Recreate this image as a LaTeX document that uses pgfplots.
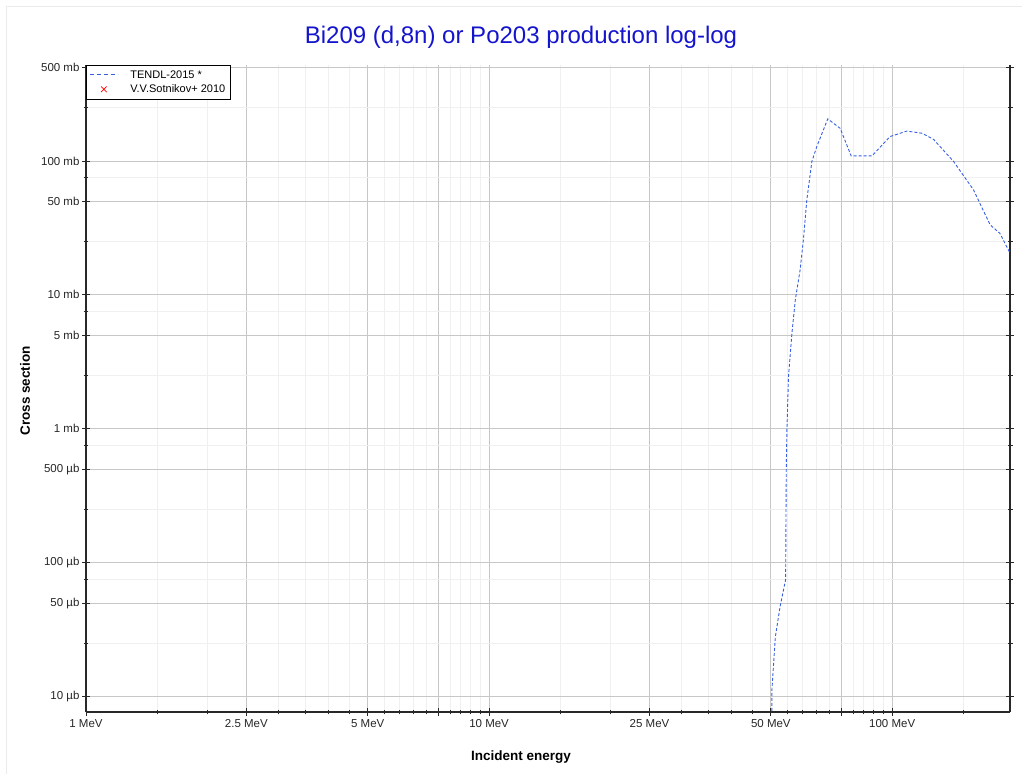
\documentclass[border=0pt]{standalone}
\usepackage{pgfplots}
\pgfplotsset{compat=1.18}
\usepackage{fontspec}
\setmainfont{Liberation Sans}
\definecolor{tendl}{RGB}{55,95,225}
\definecolor{ttl}{RGB}{20,20,205}
\definecolor{axc}{RGB}{40,40,40}
\pgfplotsset{
  longline/.style={legend image code/.code={\draw[tendl, line width=1pt, dash pattern=on 4pt off 3pt] (0pt,0pt) -- (28pt,0pt); \path (38pt,0pt);}},
  markleg/.style={legend image code/.code={\draw[red, line width=0.7pt] plot[mark=x, mark size=4pt] coordinates {(14pt,0pt)}; \path (0pt,0pt) (38pt,0pt);}},
}
\begin{document}
\begin{tikzpicture}[x=1pt,y=1pt]
\useasboundingbox (0,0) rectangle (1022,774);
\draw[black!8, line width=0.8pt] (6,0) -- (6,768) -- (1022,768);
\begin{axis}[
  scale only axis, width=924pt, height=647pt,
  at={(86pt,62pt)}, anchor=south west,
  xmode=log, ymode=log,
  xmin=1, xmax=196, ymin=0.0077, ymax=520,
  separate axis lines,
  axis x line*=bottom, axis y line*=box,
  axis line style={axc, line width=1.3pt},
  xtick pos=left, ytick pos=both, yticklabel pos=left,
  xtick={1,2.5,5,7.5,10,25,50,75,100},
  xticklabels={1 MeV,2.5 MeV,5 MeV,,10 MeV,25 MeV,50 MeV,,100 MeV},
  minor xtick={1.5,2,3,3.5,4,4.5,5.5,6,6.5,7,8,8.5,9,9.5,15,20,30,35,40,45,55,60,65,70,80,85,90,95,150},
  ytick={0.01,0.05,0.1,0.5,1,5,10,50,100,500},
  yticklabels={10 µb,50 µb,100 µb,500 µb,1 mb,5 mb,10 mb,50 mb,100 mb,500 mb},
  minor ytick={0.025,0.075,0.25,0.75,2.5,7.5,25,75,250},
  tick align=center,
  major tick length=8pt, minor tick length=5pt,
  tick style={axc, line width=0.8pt},
  grid=both,
  major grid style={black!22, line width=0.8pt},
  minor grid style={black!6, line width=0.8pt},
  ticklabel style={font=\fontsize{11.5}{13}\selectfont, black!85},
  xticklabel style={yshift=0pt},
  yticklabel style={xshift=1pt},
  legend style={at={(rel axis cs:0,1)}, anchor=north west,
    font=\fontsize{11}{13}\selectfont, draw=black, line width=0.8pt,
    inner xsep=3pt, inner ysep=3pt, row sep=1pt, legend cell align=left},
]
\addplot[tendl, line width=0.9pt, dash pattern=on 3pt off 2pt, longline] coordinates {
(50.1,0.001) (50.3,0.0113) (51.3,0.028) (52.7,0.047) (54.4,0.075)
(54.6,0.49) (54.8,0.98) (55.3,2.46) (56.4,5.2) (57.5,9.2) (59.1,15.4)
(60.2,25.7) (61.4,51) (63.2,99) (65,128) (69.2,206) (74.3,175)
(79.1,109) (89.1,109) (98.8,152) (108.7,167) (118.5,161) (126.6,145)
(142,99) (159,61) (175,33.3) (185,28.8) (196,20.5) (200,18)
};
\addlegendentry{TENDL-2015 *}
\addlegendimage{markleg}
\addlegendentry{V.V.Sotnikov+ 2010}
\end{axis}
\node[ttl, font=\fontsize{24}{28}\selectfont] at (521,737) {Bi209 (d,8n) or Po203 production log-log};
\node[font=\bfseries\fontsize{13.5}{15}\selectfont] at (521,17) {Incident energy};
\node[font=\bfseries\fontsize{13.5}{15}\selectfont, rotate=90] at (25,383) {Cross section};
\end{tikzpicture}
\end{document}
